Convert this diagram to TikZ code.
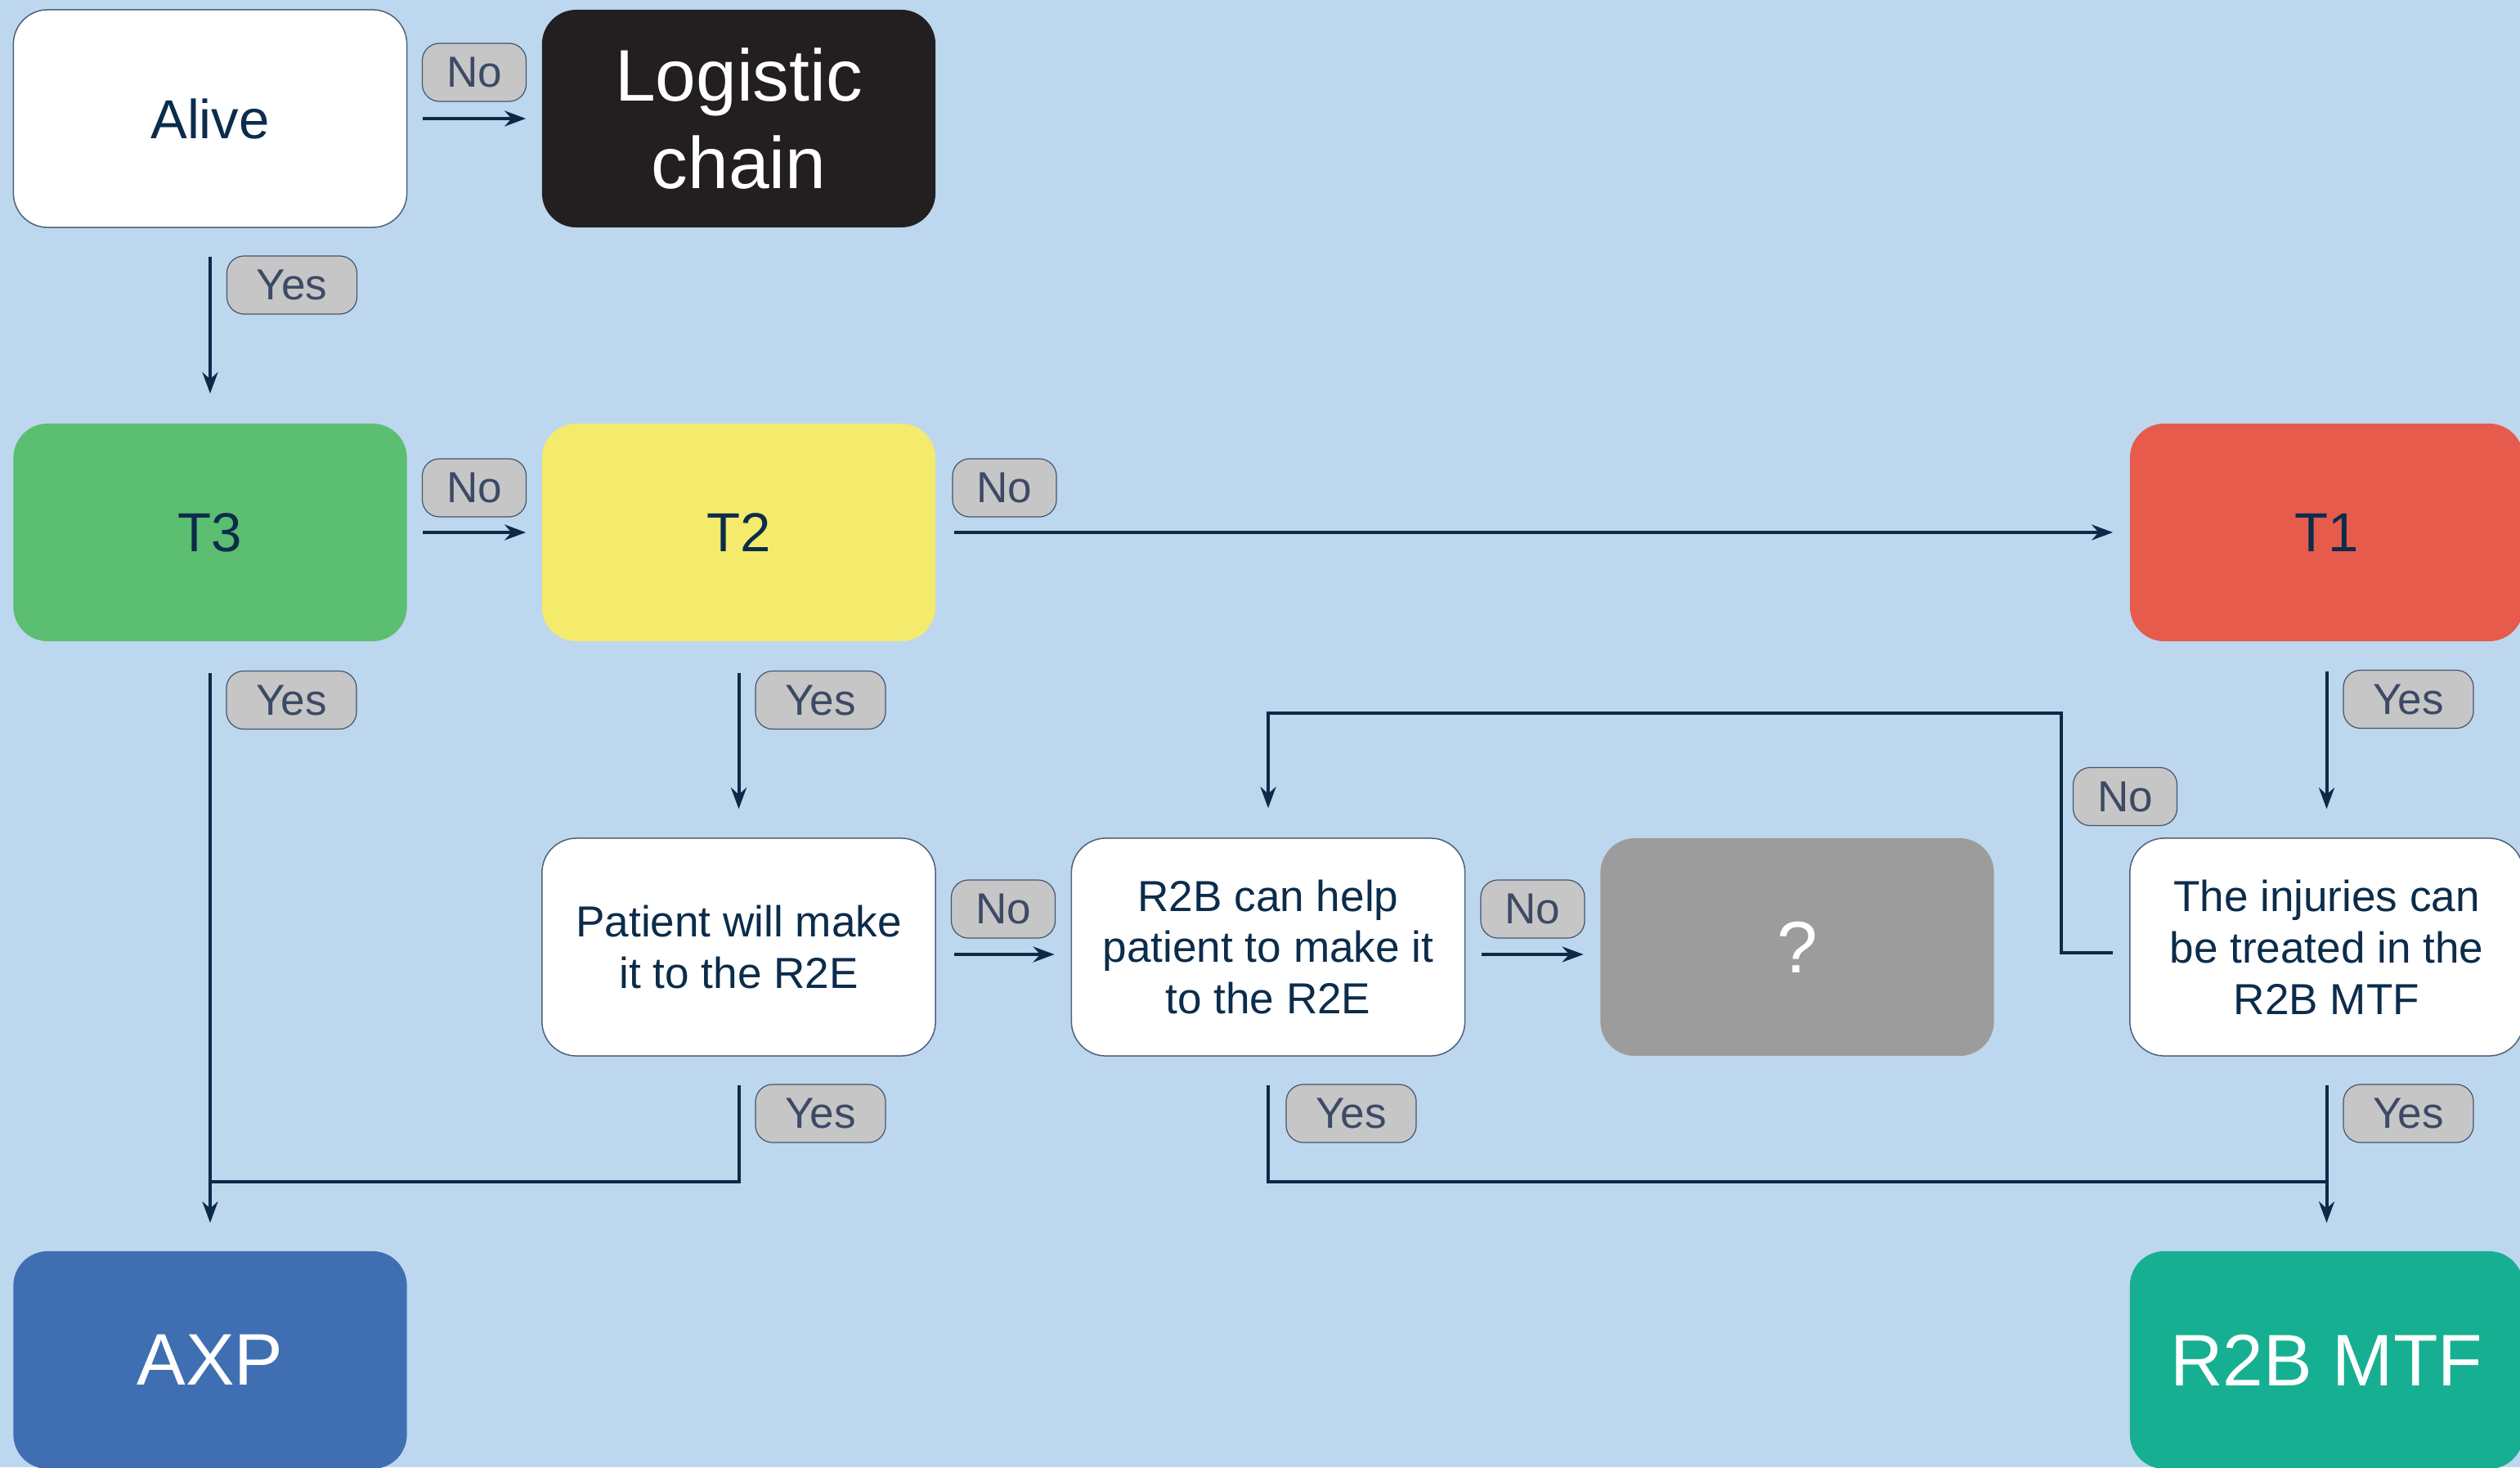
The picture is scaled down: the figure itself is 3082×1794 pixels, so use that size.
\documentclass[tikz,border=0pt]{standalone}
\usepackage{fontspec}
\setmainfont{Liberation Sans}
\usetikzlibrary{arrows.meta}

\definecolor{bgblue}{HTML}{BDD7EF}
\definecolor{navy}{HTML}{0C2C4B}
\definecolor{edgeblue}{HTML}{0B2A48}
\definecolor{boxedge}{HTML}{4E627A}
\definecolor{tagfill}{HTML}{C6C6C6}
\definecolor{tagedge}{HTML}{44556E}
\definecolor{tagtext}{HTML}{3D4A66}
\definecolor{coalblack}{HTML}{231F20}
\definecolor{tgreen}{HTML}{5CBE70}
\definecolor{tyellow}{HTML}{F4EA6B}
\definecolor{tred}{HTML}{E65B4C}
\definecolor{qgray}{HTML}{9B9C9B}
\definecolor{axpblue}{HTML}{3F6FB2}
\definecolor{mtfteal}{HTML}{17AF91}

\begin{document}
\begin{tikzpicture}[x=0.01cm, y=-0.01cm,
  box/.style={rectangle, rounded corners=0.42cm, minimum width=4.81cm,
    minimum height=2.66cm, inner sep=0pt, align=center, text=navy,
    font=\fontsize{19.1}{22.7}\selectfont},
  plainbox/.style={box, fill=white, draw=boxedge, line width=0.015cm},
  textbox/.style={plainbox, font=\fontsize{15.1}{17.9}\selectfont},
  bigbox/.style={box, text=white, font=\fontsize{25.4}{30.4}\selectfont},
  tag/.style={rectangle, rounded corners=0.21cm, minimum height=0.71cm,
    inner sep=0pt, fill=tagfill, draw=tagedge, line width=0.012cm,
    text=tagtext, font=\fontsize{15.1}{17.9}\selectfont},
  yestag/.style={tag, minimum width=1.59cm},
  notag/.style={tag, minimum width=1.27cm},
  wire/.style={draw=edgeblue, line width=0.04cm},
  arr/.style={wire, -{Stealth[length=0.26cm, width=0.19cm]}}
]
% background
\fill[bgblue] (0,0) rectangle (3082,1794);
\useasboundingbox (0,0) rectangle (3082,1794);

% boxes
\node[plainbox] (alive) at (257,145) {Alive};
\node[bigbox, fill=coalblack] (logi) at (903.5,145) {Logistic\\chain};
\node[box, fill=tgreen] (t3) at (257,651) {T3};
\node[box, fill=tyellow] (t2) at (903.5,651) {T2};
\node[box, fill=tred] (t1) at (2845.5,651) {T1};
\node[textbox] (patient) at (903.5,1158) {Patient will make\\it to the R2E};
\node[textbox] (r2b) at (1551,1158) {R2B can help\\patient to make it\\to the R2E};
\node[bigbox, fill=qgray] (q) at (2198,1158) {?};
\node[textbox] (inj) at (2845.5,1158) {The injuries can\\be treated in the\\R2B MTF};
\node[bigbox, fill=axpblue] (axp) at (257,1663) {AXP};
\node[bigbox, fill=mtfteal] (mtf) at (2845.5,1663) {R2B MTF};

% junction points of the merging "Yes" branches
\coordinate (jL) at (257,1445);
\coordinate (jR) at (2845.5,1445);
\coordinate (loopR) at (2521,872);

% connectors
\draw[arr] ([xshift=0.19cm]alive.east) -- ([xshift=-0.19cm]logi.west);
\draw[arr] ([yshift=-0.35cm]alive.south) -- ([yshift=0.36cm]t3.north);
\draw[arr] ([xshift=0.19cm]t3.east) -- ([xshift=-0.19cm]t2.west);
\draw[arr] ([xshift=0.22cm]t2.east) -- ([xshift=-0.20cm]t1.west);
\draw[arr] ([yshift=-0.38cm]t3.south) -- ([yshift=0.34cm]axp.north);
\draw[arr] ([yshift=-0.38cm]t2.south) -- ([yshift=0.35cm]patient.north);
\draw[arr] ([yshift=-0.36cm]t1.south) -- ([yshift=0.35cm]inj.north);
\draw[arr] ([xshift=0.22cm,yshift=-0.09cm]patient.east) -- ([xshift=-0.20cm,yshift=-0.09cm]r2b.west);
\draw[arr] ([xshift=0.20cm,yshift=-0.09cm]r2b.east) -- ([xshift=-0.20cm,yshift=-0.09cm]q.west);
\draw[arr] ([xshift=-0.20cm,yshift=-0.07cm]inj.west) -| (loopR) -| ([yshift=0.36cm]r2b.north);
\draw[wire] ([yshift=-0.35cm]patient.south) |- (jL);
\draw[wire] ([yshift=-0.35cm]r2b.south) |- (jR);
\draw[arr] ([yshift=-0.35cm]inj.south) -- ([yshift=0.34cm]mtf.north);

% branch labels
\node[notag] (l1) at (580,88.5) {No};
\node[yestag] (l2) at (357,348.5) {Yes};
\node[notag] (l3) at (580,596.5) {No};
\node[notag] (l4) at (1228.5,596.5) {No};
\node[yestag] (l5) at (356.5,856) {Yes};
\node[yestag] (l6) at (1003.5,856) {Yes};
\node[yestag] (l7) at (2945.5,855) {Yes};
\node[notag] (l8) at (1227,1111.5) {No};
\node[notag] (l9) at (1874.5,1111.5) {No};
\node[notag] (l10) at (2599,974) {No};
\node[yestag] (l11) at (1003.5,1361.5) {Yes};
\node[yestag] (l12) at (1652.5,1361.5) {Yes};
\node[yestag] (l13) at (2945.5,1361.5) {Yes};
\end{tikzpicture}
\end{document}
